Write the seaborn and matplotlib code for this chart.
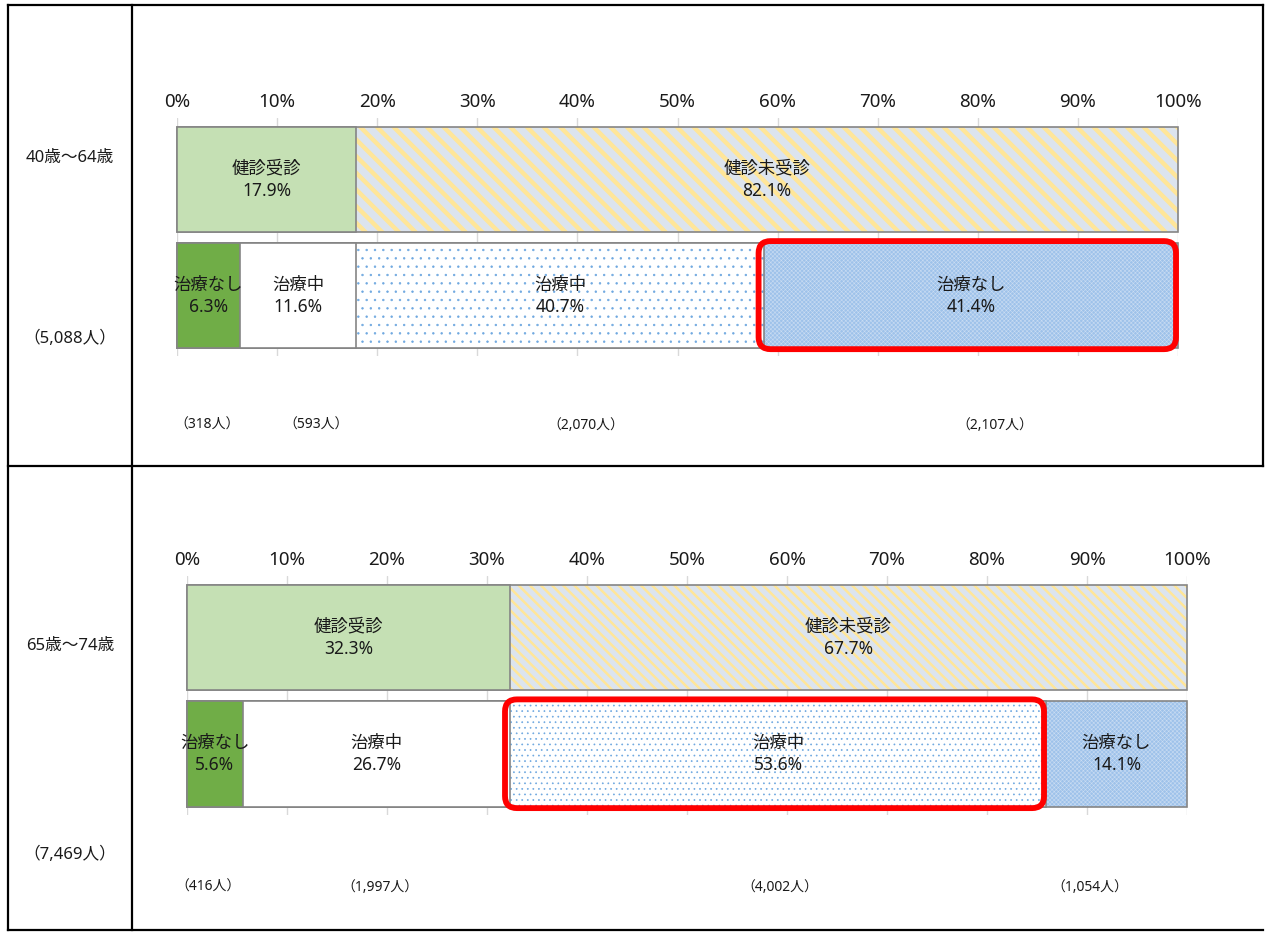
import matplotlib
matplotlib.use("Agg")
import matplotlib.pyplot as plt
import seaborn as sns
from matplotlib.patches import FancyBboxPatch
from matplotlib.lines import Line2D
from matplotlib.transforms import IdentityTransform

sns.set_theme(style="white")
plt.rcParams["font.family"] = ["Noto Sans", "Noto Sans CJK JP", "DejaVu Sans"]

# ---------------- data ----------------
age_groups = ["40歳～64歳", "65歳～74歳"]
group_totals = ["（5,088人）", "（7,469人）"]
rows = ["健診", "治療"]

checkup_labels = ["健診受診", "健診未受診"]
checkup_pct_4064 = [17.9, 82.1]
checkup_pct_6574 = [32.3, 67.7]

treat_labels = ["治療なし", "治療中", "治療中", "治療なし"]
treat_pct_4064 = [6.3, 11.6, 40.7, 41.4]
treat_pct_6574 = [5.6, 26.7, 53.6, 14.1]
treat_n_4064 = ["318", "593", "2,070", "2,107"]
treat_n_6574 = ["416", "1,997", "4,002", "1,054"]
highlight_idx = [3, 2]
tick_values = list(range(0, 101, 10))

# label placement (percent axis) for count annotations
count_pos_4064 = [3.0, 13.9, 40.8, 81.7]
count_pos_6574 = [2.1, 19.3, 59.3, 90.3]

# ---------------- styles ----------------
EDGE = "#858585"
TXT = "#1a1a1a"


def style_checkup(panel):
    dens = "\\\\" if panel == 0 else "\\\\\\"
    lw = 3.2 if panel == 0 else 1.8
    return [
        dict(face="#C5E0B4"),
        dict(face="#DCE4EE", hatch=dens, hcolor="#FFE699", hlw=lw),
    ]


def style_treat(panel):
    dots = ".." if panel == 0 else "..."
    return [
        dict(face="#70AD47"),
        dict(face="#FFFFFF"),
        dict(face="#FFFFFF", hatch=dots, hcolor="#6FA8E0", hlw=0.5),
        dict(face="#9EC2EA", hatch="xxxxxxxx", hcolor="#C9DCF2", hlw=0.4),
    ]


def add_bar(ax, row, right, st):
    layers = []
    if "hatch" in st:
        layers.append(dict(fc=st["face"], ec=st["hcolor"], lw=0, hatch=st["hatch"], hlw=st["hlw"]))
        layers.append(dict(fc="none", ec=EDGE, lw=1.2, hatch=None, hlw=None))
    else:
        layers.append(dict(fc=st["face"], ec=EDGE, lw=1.2, hatch=None, hlw=None))
    for L in layers:
        n = len(ax.patches)
        sns.barplot(x=[right], y=[row], order=rows, orient="h", width=0.905,
                    saturation=1, errorbar=None, color="white", ax=ax)
        for p in ax.patches[n:]:
            p.set_facecolor(L["fc"])
            p.set_edgecolor(L["ec"])
            p.set_linewidth(L["lw"])
            p.set_clip_on(False)
            if L["hatch"]:
                p.set_hatch(L["hatch"])
                if hasattr(p, "set_hatch_linewidth"):
                    p.set_hatch_linewidth(L["hlw"])


def draw_row(ax, row, pcts, labels, styles):
    cum = []
    s = 0
    for v in pcts:
        s += v
        cum.append(s)
    for i in range(len(pcts) - 1, -1, -1):
        add_bar(ax, row, cum[i], styles[i])
    starts = [c - v for c, v in zip(cum, pcts)]
    for st, v, lab in zip(starts, pcts, labels):
        ax.text(st + v / 2, rows.index(row), f"{lab}\n{v:.1f}%", ha="center", va="center",
                fontsize=12.5, color=TXT, linespacing=1.3, zorder=5)
    return starts, cum


W, H = 1267, 932
fig = plt.figure(figsize=(W / 100, H / 100), dpi=100)

panels = [
    dict(ax_px=(177, 1178, 118, 356), check=checkup_pct_4064, treat=treat_pct_4064,
         n=treat_n_4064, npos=count_pos_4064, label_y=158, total_y=339, count_y=2.116),
    dict(ax_px=(187, 1187, 575.5, 815), check=checkup_pct_6574, treat=treat_pct_6574,
         n=treat_n_6574, npos=count_pos_6574, label_y=646, total_y=855, count_y=2.14),
]

for k, P in enumerate(panels):
    x0, x1, y0, y1 = P["ax_px"]
    ax = fig.add_axes([x0 / W, 1 - y1 / H, (x1 - x0) / W, (y1 - y0) / H])
    draw_row(ax, rows[0], P["check"], checkup_labels, style_checkup(k))
    starts, cum = draw_row(ax, rows[1], P["treat"], treat_labels, style_treat(k))

    ax.set_xlim(0, 100)
    ax.set_ylim(1.52, -0.53)
    ax.xaxis.tick_top()
    ax.set_xticks(tick_values)
    ax.set_xticklabels([f"{t}%" for t in tick_values])
    ax.tick_params(axis="x", length=0, pad=5, labelsize=13.5, labelcolor=TXT)
    ax.set_yticks([])
    ax.set_xlabel("")
    ax.set_ylabel("")
    ax.set_axisbelow(True)
    ax.grid(axis="x", color="#D9D9D9", lw=1)
    ax.grid(axis="y", visible=False)
    for sp in ax.spines.values():
        sp.set_visible(False)
    ax.patch.set_alpha(0)

    for xpos, n in zip(P["npos"], P["n"]):
        ax.text(xpos, P["count_y"], f"（{n}人）", ha="center", va="center",
                fontsize=10, color=TXT, clip_on=False)

    # highlight rounded box around the segment
    h = highlight_idx[k]
    (dx0, dy0) = ax.transData.transform((starts[h], 1 + 0.4525))
    (dx1, dy1) = ax.transData.transform((cum[h], 1 - 0.4525))
    box = FancyBboxPatch((dx0 - 3, dy0 + 1), (dx1 - dx0) - 1, (dy1 - dy0) - 1,
                         boxstyle="round,pad=2,rounding_size=12",
                         transform=IdentityTransform(), fc="none", ec="#FF0000",
                         lw=4.2, zorder=10)
    fig.add_artist(box)

    fig.text(70 / W, 1 - P["label_y"] / H, age_groups[k], ha="center", va="center",
             fontsize=12, color=TXT)
    fig.text(70 / W, 1 - P["total_y"] / H, group_totals[k], ha="center", va="center",
             fontsize=12, color=TXT)

# table frame
def fl(x0, y0, x1, y1):
    fig.add_artist(Line2D([x0 / W, x1 / W], [1 - y0 / H, 1 - y1 / H], color="black",
                          lw=1.6, transform=fig.transFigure, solid_capstyle="projecting"))

fl(8, 5, 1263, 5)
fl(8, 930, 1263, 930)
fl(8, 466, 1263, 466)
fl(8, 5, 8, 930)
fl(132, 5, 132, 930)
fl(1263, 5, 1263, 466)

fig.savefig("out.png", dpi=100, facecolor="white")
